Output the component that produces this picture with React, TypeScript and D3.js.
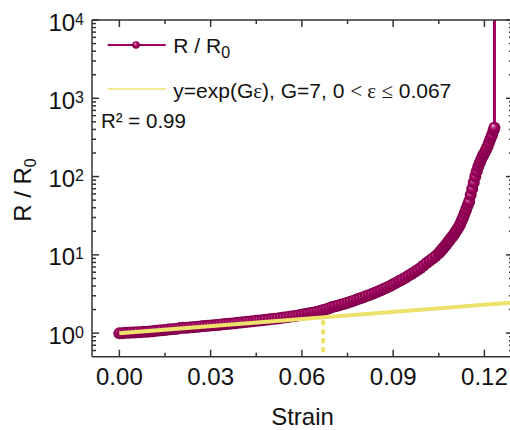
import React from 'react';
import * as d3 from 'd3';

// ---- data ----
const strain = [
  0.000, 0.001, 0.002, 0.003, 0.004, 0.005, 0.006, 0.007, 0.008, 0.009,
  0.010, 0.011, 0.012, 0.013, 0.014, 0.015, 0.016, 0.017, 0.018, 0.019,
  0.020, 0.021, 0.022, 0.023, 0.024, 0.025, 0.026, 0.027, 0.028, 0.029,
  0.030, 0.031, 0.032, 0.033, 0.034, 0.035, 0.036, 0.037, 0.038, 0.039,
  0.040, 0.041, 0.042, 0.043, 0.044, 0.045, 0.046, 0.047, 0.048, 0.049,
  0.050, 0.051, 0.052, 0.053, 0.054, 0.055, 0.056, 0.057, 0.058, 0.059,
  0.060, 0.061, 0.062, 0.063, 0.064, 0.065, 0.066, 0.067, 0.068, 0.069,
  0.070, 0.071, 0.072, 0.073, 0.074, 0.075, 0.076, 0.077, 0.078, 0.079,
  0.080, 0.081, 0.082, 0.083, 0.084, 0.085, 0.086, 0.087, 0.088, 0.089,
  0.090, 0.091, 0.092, 0.093, 0.094, 0.095, 0.096, 0.097, 0.098, 0.099,
  0.100, 0.101, 0.102, 0.103, 0.104, 0.105,
  0.1055, 0.1060, 0.1065, 0.1070, 0.1075, 0.1080, 0.1085, 0.1090, 0.1095, 0.1100,
  0.1105, 0.1110, 0.1115, 0.1120, 0.1125, 0.1130, 0.1135, 0.1140, 0.1145, 0.1150,
  0.1155, 0.1160, 0.1165, 0.1170, 0.1175, 0.1180, 0.1185, 0.1190, 0.1195, 0.1200,
  0.1205, 0.1210, 0.1215, 0.1220, 0.1225, 0.1230, 0.1233, 0.1233,
];
const ratio = [
  1.00, 1.00, 1.01, 1.01, 1.02, 1.02, 1.03, 1.03, 1.04, 1.04,
  1.05, 1.06, 1.07, 1.08, 1.09, 1.10, 1.11, 1.12, 1.13, 1.14,
  1.16, 1.17, 1.17, 1.18, 1.19, 1.20, 1.21, 1.22, 1.23, 1.24,
  1.25, 1.26, 1.27, 1.28, 1.30, 1.31, 1.32, 1.33, 1.34, 1.36,
  1.37, 1.38, 1.40, 1.41, 1.42, 1.44, 1.45, 1.46, 1.48, 1.49,
  1.51, 1.53, 1.54, 1.56, 1.58, 1.60, 1.62, 1.64, 1.66, 1.69,
  1.72, 1.75, 1.78, 1.81, 1.84, 1.88, 1.92, 1.97, 2.02, 2.08,
  2.15, 2.20, 2.26, 2.32, 2.38, 2.45, 2.52, 2.60, 2.68, 2.76,
  2.85, 2.95, 3.05, 3.16, 3.28, 3.40, 3.53, 3.68, 3.84, 4.01,
  4.20, 4.40, 4.62, 4.85, 5.10, 5.40, 5.70, 6.05, 6.40, 6.80,
  7.30, 7.85, 8.40, 9.00, 9.70, 10.5,
  11.0, 11.6, 12.2, 12.9, 13.7, 14.5, 15.4, 16.3, 17.2, 18.3,
  19.6, 21.0, 22.6, 24.5, 27.0, 30.0, 34.0, 38.0, 43.0, 48.0,
  58.0, 70.0, 84.0, 100, 117, 134, 150, 168, 184, 200,
  218, 240, 270, 305, 340, 390, 420, 1000000,
];
const fitStrain = [0.0, 0.13];
const fitRatio = [1.0, 2.48];
const cutoffStrain = 0.067;
const cutoffRatio = 1.6;
const xTicks = [0, 0.03, 0.06, 0.09, 0.12];
const xTickLabels = ['0.00', '0.03', '0.06', '0.09', '0.12'];
const xMinorTicks = [0.015, 0.045, 0.075, 0.105];
const yTicks = [1, 10, 100, 1000, 10000];
const yTickExps = ['0', '1', '2', '3', '4'];

const W = 510;
const H = 430;
const L = 92;
const R = 513;
const T = 20;
const B = 356.7;

const PURPLE = '#A0005C';
const YELLOW = '#EDE36C';
const AXIS = '#333';
const FONT = '"Liberation Sans", Arial, sans-serif';

export default function App() {
  const x = d3.scaleLinear().domain([-0.009, 0.1294]).range([L, R]);
  const y = d3.scaleLog().domain([0.5, 10000]).range([B, T]);

  const pts = strain.map((s, i) => [s, ratio[i]] as [number, number]);
  const line = d3
    .line<[number, number]>()
    .x((d) => x(d[0]))
    .y((d) => y(d[1]));

  const yMinor = y
    .ticks()
    .filter((v) => !yTicks.some((t) => Math.abs(t - v) < 1e-9) && v > 0.5 && v < 10000);

  return (
    <svg
      width={W}
      height={H}
      style={{ position: 'absolute', left: 0, top: 0, background: '#fff' }}
      fontFamily={FONT}
    >
      <defs>
        <clipPath id="plot">
          <rect x={L} y={T} width={R - L} height={B - T} />
        </clipPath>
        <radialGradient id="sph" cx="0.5" cy="0.5" r="0.5" fx="0.35" fy="0.3">
          <stop offset="0" stopColor="#fbe6f1" />
          <stop offset="0.22" stopColor="#c9589a" />
          <stop offset="0.55" stopColor="#a2005e" />
          <stop offset="1" stopColor="#7a0046" />
        </radialGradient>
      </defs>
      <rect x={0} y={0} width={W} height={H} fill="#fff" />

      <g clipPath="url(#plot)">
        <path d={line(pts) || ''} fill="none" stroke={PURPLE} strokeWidth={3} />
        {pts.slice(0, pts.length - 1).map((d, i) => (
          <circle key={i} cx={x(d[0])} cy={y(d[1])} r={6} fill="url(#sph)" />
        ))}
        <line
          x1={x(fitStrain[0])}
          y1={y(fitRatio[0])}
          x2={x(fitStrain[1])}
          y2={y(fitRatio[1])}
          stroke={YELLOW}
          strokeWidth={4}
        />
        <line
          x1={x(cutoffStrain)}
          y1={y(cutoffRatio) + 3}
          x2={x(cutoffStrain)}
          y2={B}
          stroke={YELLOW}
          strokeWidth={4}
          strokeDasharray="5 4"
        />
      </g>

      {/* frame */}
      <g stroke={AXIS} strokeWidth={1.5} fill="none">
        <line x1={L} y1={T} x2={L} y2={B} />
        <line x1={L} y1={B} x2={R} y2={B} />
        <line x1={L} y1={T} x2={R} y2={T} />
        <line x1={R} y1={T} x2={R} y2={B} />
        {xTicks.map((t) => (
          <g key={'xt' + t}>
            <line x1={x(t)} x2={x(t)} y1={B} y2={B - 7} />
            <line x1={x(t)} x2={x(t)} y1={T} y2={T + 7} />
          </g>
        ))}
        {xMinorTicks.map((t) => (
          <g key={'xm' + t}>
            <line x1={x(t)} x2={x(t)} y1={B} y2={B - 4} />
            <line x1={x(t)} x2={x(t)} y1={T} y2={T + 4} />
          </g>
        ))}
        {yTicks.map((t) => (
          <g key={'yt' + t}>
            <line x1={L} x2={L + 7} y1={y(t)} y2={y(t)} />
            <line x1={R} x2={R - 7} y1={y(t)} y2={y(t)} />
          </g>
        ))}
        {yMinor.map((t) => (
          <g key={'ym' + t}>
            <line x1={L} x2={L + 4} y1={y(t)} y2={y(t)} />
            <line x1={R} x2={R - 4} y1={y(t)} y2={y(t)} />
          </g>
        ))}
      </g>

      {/* tick labels */}
      {xTicks.map((t, i) => (
        <text key={'xl' + t} x={x(t)} y={384.5} fontSize={24} textAnchor="middle" fill="#111">
          {xTickLabels[i]}
        </text>
      ))}
      {yTicks.map((t, i) => (
        <text key={'yl' + t} x={84} y={y(t) + 10.5} fontSize={24} textAnchor="end" fill="#111">
          10
          <tspan fontSize={16} dy={-6}>
            {yTickExps[i]}
          </tspan>
        </text>
      ))}

      {/* axis titles */}
      <text x={302.5} y={425} fontSize={24} textAnchor="middle" fill="#111">
        Strain
      </text>
      <text
        transform="translate(31,190) rotate(-90)"
        fontSize={24}
        textAnchor="middle"
        fill="#111"
      >
        R / R
        <tspan fontSize={16} dy={5}>
          0
        </tspan>
      </text>

      {/* legend */}
      <line x1={107.7} x2={165.7} y1={45} y2={45} stroke={PURPLE} strokeWidth={2} />
      <circle cx={136} cy={45} r={3.8} fill="url(#sph)" />
      <text x={173.3} y={53.3} fontSize={21} fill="#111">
        R / R
        <tspan fontSize={16} dy={5}>
          0
        </tspan>
      </text>
      <line x1={107.7} x2={165.7} y1={89} y2={89} stroke="#F2EA94" strokeWidth={2} />
      <text x={173.3} y={97.5} fontSize={21} fill="#111">
        y=exp(G
        <tspan fontFamily='"Liberation Serif", serif'>ε</tspan>
        ), G=7, 0{' '}
        <tspan fontFamily='"Liberation Serif", serif'>&lt; ε ≤</tspan> 0.067
      </text>
      <text x={101} y={128.3} fontSize={20.5} fill="#111">
        R² = 0.99
      </text>
    </svg>
  );
}
